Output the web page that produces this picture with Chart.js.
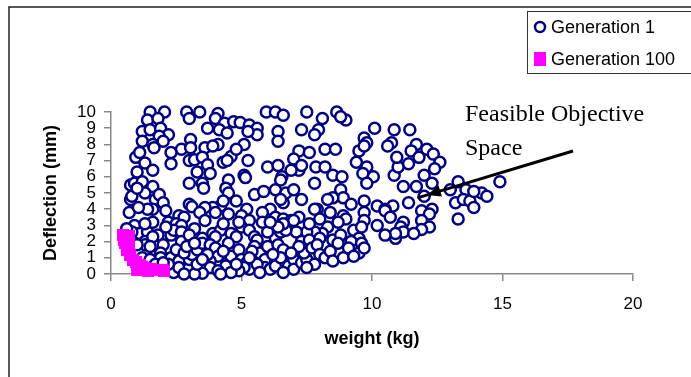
<!DOCTYPE html>
<html>
<head>
<meta charset="utf-8">
<script src="https://cdn.jsdelivr.net/npm/chart.js@4.4.1/dist/chart.umd.min.js"></script>
<style>
  body { margin: 0; background: #fff; }
  canvas { display: block; }
</style>
</head>
<body>
<canvas id="paretoCanvas" width="691" height="377"></canvas>
<script>
// Generation 1 population (weight kg, deflection mm)
let gen1Weight = [
  1.5, 2.05, 2.9, 3.4, 4.1, 5.95, 6.3, 6.6, 7.5, 8.65,
  1.4, 1.8, 3.0, 4.0, 4.35, 4.7, 4.95, 5.3, 5.6, 8.1, 9.0, 8.8,
  1.2, 1.5, 1.9, 2.2, 1.85, 3.7, 4.15, 4.45, 5.6, 6.4, 7.3, 7.95, 10.1, 10.85, 11.45, 9.7, 6.4, 7.8, 4.1, 3.05, 1.2, 1.6, 5.1, 10.75, 11.7, 9.8, 5.25, 2.0,
  3.6, 3.9, 2.7, 2.3, 1.65, 0.95, 1.1, 1.3, 1.0, 7.2, 8.2, 8.6, 9.5, 9.7, 10.6, 12.1, 12.35, 12.6, 12.4, 11.4, 12.0, 10.85, 11.0, 10.95, 11.5,
  3.0, 3.2, 3.5, 3.7, 4.3, 4.6, 4.45, 7.0, 7.2, 7.3, 7.6, 7.85, 8.2, 6.0, 6.4, 6.55, 9.8, 9.65, 10.05, 5.1, 5.15, 8.5, 8.85, 3.05, 3.3, 3.8, 4.8, 5.25, 6.9, 1.6, 2.3, 9.4, 11.8,
  0.75, 0.9, 0.75, 0.8, 0.7, 1.6, 1.3, 1.7, 1.85, 2.0, 1.6, 1.4, 1.05, 3.0, 3.5, 3.55, 4.5, 4.4, 5.5, 5.85, 6.3, 6.7, 6.5, 7.0, 7.3, 6.6, 6.5, 7.8, 8.8, 8.9, 8.5, 9.8, 9.7, 10.2, 10.8, 11.2, 11.7, 11.4, 12.0, 12.3,
  13.3, 13.6, 13.2, 13.5, 13.75, 13.9, 14.2, 14.4, 14.9, 13.0, 13.9, 9.2, 4.2, 3.9, 3.6, 3.0, 3.1, 2.1, 4.5, 4.3, 5.2, 4.8, 6.1, 7.9, 8.3, 10.5, 12.3, 1.2, 1.0,
  0.9, 1.1, 1.4, 1.3, 1.6, 1.3, 1.8, 1.6, 2.2, 2.3, 0.8, 0.6, 2.6, 2.8, 2.5, 2.7, 2.4, 2.7, 3.4, 4.0, 4.5, 5.0, 5.3, 5.8, 6.3, 6.6, 6.9, 7.2, 7.0, 7.8, 8.4, 8.9, 9.0, 8.7, 8.3, 8.1, 7.8, 7.5, 7.1,
  9.7, 9.7, 9.3, 10.5, 10.7, 11.9, 12.2, 11.9, 12.2, 11.9, 11.2, 11.1, 11.2, 10.9, 10.9, 10.5, 11.6, 13.3,
  3.9, 4.2, 4.0, 4.6, 4.8, 5.0, 5.3, 5.5, 6.3, 6.5, 6.7, 7.3, 7.6, 8.0, 8.5, 8.8, 9.5, 9.2, 6.6, 6.0, 5.6, 5.8, 6.4, 6.1, 2.7, 3.5, 3.2, 3.6, 4.3, 4.9, 7.6, 8.0, 9.6, 10.2, 3.0, 2.1,
  1.3, 1.5, 2.0, 1.9, 1.9, 2.3, 2.5, 1.0, 1.2, 1.5, 1.7, 2.0, 2.3, 2.4, 2.6, 2.6, 3.0, 3.0, 3.1, 3.3, 3.5, 3.8, 4.0, 4.1, 3.8, 3.8, 4.5, 4.4, 4.6, 4.5, 4.9, 5.0, 5.2, 5.3, 5.1, 4.9, 4.6, 3.5, 3.2, 2.8, 4.1,
  5.5, 5.7, 5.9, 5.9, 6.1, 6.3, 6.0, 6.4, 6.6, 6.5, 6.8, 7.0, 7.0, 7.3, 7.5, 7.4, 7.2, 7.7, 7.9, 8.0, 8.2, 8.4, 8.7, 9.1, 9.5, 9.6, 9.7, 7.8, 7.5, 6.2, 5.6, 5.4,
  3.3, 3.7, 4.3, 2.2, 2.8, 3.5, 4.2, 5.7, 6.6, 8.5, 8.9, 9.3, 6.9, 5.3, 4.8, 2.9, 3.2, 2.0
];
let gen1Deflection = [
  10, 10, 10, 10, 9.9, 10, 10, 9.8, 10, 10,
  9.5, 9.6, 9.6, 9.6, 9.3, 9.4, 9.35, 9.2, 9.0, 9.6, 9.5, 9.7,
  8.8, 8.9, 9.0, 8.6, 8.5, 9.0, 8.9, 8.7, 8.6, 8.8, 8.9, 8.9, 9.0, 8.9, 8.9, 8.4, 8.2, 8.6, 8.0, 8.3, 8.2, 8.0, 8.0, 8.1, 8.0, 8.1, 8.8, 8.2,
  7.8, 7.9, 7.7, 7.5, 7.8, 7.2, 7.5, 6.85, 6.3, 7.6, 7.7, 7.7, 7.6, 7.9, 7.9, 7.7, 7.4, 6.9, 6.5, 6.8, 6.1, 6.1, 6.6, 7.2, 7.6,
  7.0, 7.05, 7.2, 6.75, 6.9, 7.25, 7.0, 7.1, 6.4, 6.7, 7.5, 6.6, 6.6, 6.6, 6.7, 6.0, 6.6, 6.2, 6.0, 6.1, 5.95, 6.1, 6.0, 7.8, 6.3, 6.2, 7.7, 7.0, 6.4, 6.4, 6.8, 6.9, 7.2,
  5.5, 5.6, 4.6, 4.8, 3.8, 5.4, 5.0, 4.6, 4.9, 4.4, 4.0, 4.0, 4.1, 5.6, 5.6, 5.3, 5.8, 5.3, 4.9, 5.1, 5.2, 5.0, 5.8, 5.2, 4.6, 4.4, 4.6, 5.6, 5.2, 4.7, 4.7, 5.6, 4.5, 4.2, 4.2, 5.4, 5.4, 4.4, 4.8, 5.6,
  5.7, 5.2, 4.4, 4.6, 4.5, 4.1, 5.0, 4.8, 5.7, 5.2, 5.1, 4.3, 4.2, 4.1, 4.1, 4.3, 4.15, 3.9, 5.0, 4.5, 4.0, 4.5, 4.0, 4.0, 4.6, 4.0, 4.0, 5.7, 5.3,
  3.0, 2.5, 2.6, 2.0, 3.2, 3.1, 2.4, 2.3, 3.2, 2.4, 2.6, 2.8, 3.6, 3.5, 3.1, 3.0, 2.7, 2.6, 3.8, 3.8, 3.7, 3.6, 3.3, 3.8, 3.5, 3.4, 3.3, 3.5, 3.3, 4.0, 3.8, 3.6, 3.4, 3.2, 2.9, 2.5, 2.6, 2.6, 2.6,
  3.8, 3.3, 2.7, 3.9, 3.5, 3.9, 3.7, 3.3, 2.9, 2.75, 3.2, 2.9, 2.6, 2.2, 2.5, 2.4, 2.5, 3.4,
  2.5, 2.7, 2.3, 2.5, 2.3, 2.9, 2.7, 2.3, 2.2, 2.6, 2.7, 2.0, 2.1, 2.2, 2.1, 2.4, 2.2, 2.0, 3.1, 2.6, 2.1, 3.2, 2.9, 3.2, 2.0, 2.2, 2.8, 3.3, 3.1, 3.2, 3.1, 3.4, 2.9, 3.0, 2.4, 2.9,
  1.8, 1.7, 1.8, 1.3, 1.0, 1.0, 1.5, 1.8, 1.0, 0.9, 0.6, 0.3, 0.3, 0.1, 0.8, 0.4, 0.4, 0.9, 1.2, 1.5, 1.9, 1.8, 1.6, 1.1, 0.8, 0.4, 0.8, 0.5, 1.1, 1.9, 1.5, 0.9, 0.7, 0.3, 0.4, 0.2, 0.1, 0.05, 0.0, 0.0, 0.2,
  1.7, 1.3, 0.9, 0.4, 0.3, 0.5, 1.7, 1.8, 1.5, 1.0, 0.5, 0.9, 0.3, 0.7, 0.9, 1.3, 1.7, 1.6, 1.8, 1.2, 1.0, 1.4, 1.9, 1.6, 1.3, 1.9, 1.6, 0.6, 0.4, 1.2, 0.6, 1.4,
  0.6, 1.2, 1.4, 0.6, 1.3, 0.9, 0.0, 0.1, 0.1, 0.8, 1.0, 1.1, 1.3, 1.0, 0.6, 1.7, 1.9, 0.7
];

// Generation 100 (Pareto front)
let gen100Weight = [0.46, 0.5, 0.69, 0.54, 0.61, 0.69, 0.73, 0.84, 0.96, 1.11, 1.0, 1.27, 1.5, 1.73, 1.96, 2.03, 1.42, 1.2];
let gen100Deflection = [2.41, 2.1, 2.35, 1.91, 1.48, 1.79, 1.17, 0.86, 0.74, 0.56, 0.25, 0.37, 0.31, 0.25, 0.25, 0.19, 0.19, 0.45];

function toPoints(xs, ys) {
  return xs.map(function (x, i) { return { x: x, y: ys[i] }; });
}

// frame, legend box and the annotation with arrow
let extras = {
  id: 'extras',
  afterDraw: function (chart) {
    let c = chart.ctx;
    c.save();
    c.strokeStyle = '#222';
    c.lineWidth = 1.5;
    c.strokeRect(9, 7, 720, 420);

    // legend
    c.strokeStyle = '#333';
    c.lineWidth = 1;
    c.strokeRect(527.5, 11.5, 200, 62);
    c.beginPath();
    c.arc(540, 27, 5, 0, Math.PI * 2);
    c.fillStyle = '#fff';
    c.fill();
    c.strokeStyle = '#000080';
    c.lineWidth = 2.5;
    c.stroke();
    c.fillStyle = '#ff00ff';
    c.fillRect(534, 52, 12, 14);
    c.fillStyle = '#000';
    c.font = '18px "Liberation Sans", Arial, sans-serif';
    c.textBaseline = 'middle';
    c.textAlign = 'left';
    c.fillText('Generation 1', 551, 28);
    c.fillText('Generation 100', 551, 60);

    // annotation
    c.font = '24px "Liberation Serif", "Times New Roman", serif';
    c.textBaseline = 'alphabetic';
    c.fillText('Feasible Objective', 465, 121);
    c.fillText('Space', 465, 155);

    let x1 = 573, y1 = 151, x2 = 427, y2 = 195;
    let ang = Math.atan2(y2 - y1, x2 - x1);
    c.strokeStyle = '#000';
    c.lineWidth = 3;
    c.beginPath();
    c.moveTo(x1, y1);
    c.lineTo(x2 + 10 * Math.cos(ang), y2 + 10 * Math.sin(ang));
    c.stroke();
    c.beginPath();
    c.moveTo(x2, y2);
    c.lineTo(x2 - 15 * Math.cos(ang - 0.4), y2 - 15 * Math.sin(ang - 0.4));
    c.lineTo(x2 - 15 * Math.cos(ang + 0.4), y2 - 15 * Math.sin(ang + 0.4));
    c.closePath();
    c.fillStyle = '#000';
    c.fill();
    c.restore();
  }
};

let ctx = document.getElementById('paretoCanvas');

let data = {
  datasets: [
    {
      label: 'Generation 100',
      data: toPoints(gen100Weight, gen100Deflection),
      pointStyle: 'rect',
      pointRadius: 8.5,
      backgroundColor: '#ff00ff',
      borderColor: '#ff00ff',
      borderWidth: 0,
      clip: false,
      order: 0
    },
    {
      label: 'Generation 1',
      data: toPoints(gen1Weight, gen1Deflection),
      pointStyle: 'circle',
      pointRadius: 5.5,
      backgroundColor: '#ffffff',
      borderColor: '#000080',
      borderWidth: 2.5,
      clip: false,
      order: 1
    }
  ]
};

let options = {
  responsive: false,
  animation: false,
  layout: { padding: { left: 0, right: 58, top: 112, bottom: 0 } },
  plugins: {
    legend: { display: false },
    tooltip: { enabled: false }
  },
  scales: {
    x: {
      type: 'linear',
      min: 0,
      max: 20,
      afterFit: function (scale) { scale.height = 103; },
      ticks: {
        stepSize: 5,
        autoSkip: false,
        color: '#000',
        padding: 13,
        font: { family: '"Liberation Sans", Arial, sans-serif', size: 17 }
      },
      grid: { drawOnChartArea: false, drawTicks: true, tickLength: 7, color: '#888', lineWidth: 1.5 },
      border: { color: '#888', width: 1.5 },
      title: {
        display: true,
        text: 'weight (kg)',
        color: '#000',
        padding: { top: 0, bottom: 27 },
        font: { family: '"Liberation Sans", Arial, sans-serif', size: 18, weight: 'bold' }
      }
    },
    y: {
      min: 0,
      max: 10,
      afterFit: function (scale) { scale.width = 111; },
      ticks: {
        stepSize: 1,
        autoSkip: false,
        color: '#000',
        padding: 8,
        font: { family: '"Liberation Sans", Arial, sans-serif', size: 17 }
      },
      grid: { drawOnChartArea: false, drawTicks: true, tickLength: 7, color: '#888', lineWidth: 1.5 },
      border: { color: '#888', width: 1.5 },
      title: {
        display: true,
        text: 'Deflection (mm)',
        color: '#000',
        padding: { top: 40, bottom: 0 },
        font: { family: '"Liberation Sans", Arial, sans-serif', size: 18, weight: 'bold' }
      }
    }
  }
};

let paretoChart = new Chart(ctx, {
  type: 'scatter',
  data: data,
  options: options,
  plugins: [extras]
});
</script>
</body>
</html>
